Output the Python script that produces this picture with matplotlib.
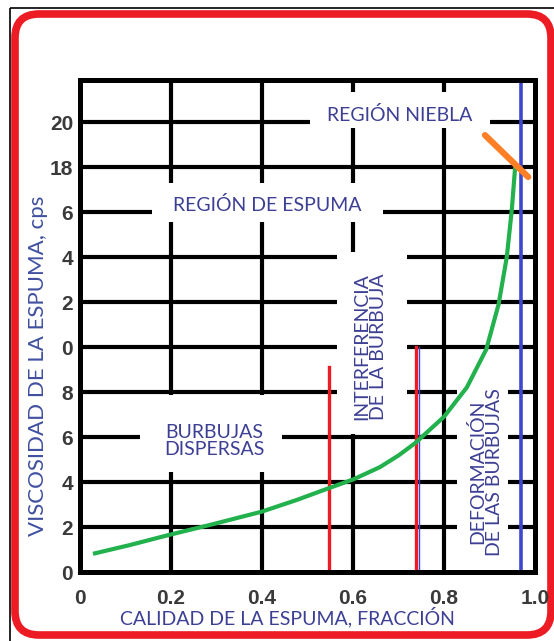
import matplotlib.pyplot as plt
from matplotlib.patches import FancyBboxPatch, Rectangle

# Data
x_ticks = [0, 0.2, 0.4, 0.6, 0.8, 1.0]
x_tick_labels = ['0', '0.2', '0.4', '0.6', '0.8', '1.0']
y_ticks = [0, 2, 4, 6, 8, 10, 12, 14, 16, 18, 20]
y_tick_labels = ['0', '2', '4', '6', '8', '0', '2', '4', '6', '18', '20']

# green curve: foam viscosity vs foam quality
quality = [0.033, 0.110, 0.194, 0.293, 0.399, 0.476, 0.546, 0.601, 0.659,
           0.700, 0.736, 0.800, 0.850, 0.893, 0.920, 0.938, 0.949, 0.956]
viscosity = [0.83, 1.20, 1.64, 2.13, 2.68, 3.20, 3.72, 4.12, 4.66,
             5.18, 5.72, 6.90, 8.2, 9.9, 11.9, 14.0, 16.1, 17.9]

# region boundaries
red_x = [0.547, 0.738]
red_top = [9.1, 10.0]
blue_x = [0.744, 0.9685]
blue_top = [10.0, 21.9]
blue_width = [1.0, 2.6]
orange_x = [0.89, 0.985]
orange_y = [19.42, 17.56]

# region labels: text, x, y, rotation, white box (x0, x1, y0, y1)
labels = [
    ('REGIÓN NIEBLA', 0.703, 20.3, 0, (0.505, 0.90, 19.75, 21.33)),
    ('REGIÓN DE ESPUMA', 0.411, 16.3, 0, (0.158, 0.666, 15.56, 17.29)),
    ('BURBUJAS\nDISPERSAS', 0.295, 5.82, 0, (0.132, 0.444, 4.44, 7.85)),
    ('INTERFERENCIA\nDE LA BURBUJA', 0.637, 10.0, 90, (0.565, 0.719, 6.12, 14.22)),
    ('DEFORMACIÓN\nDE LAS BURBUJAS', 0.892, 4.44, 90, (0.829, 0.94, 0.0, 9.0)),
]

W, H = 554, 641
fig = plt.figure(figsize=(W / 100, H / 100), dpi=100)

# background frame (pixel coordinates)
bg = fig.add_axes([0, 0, 1, 1])
bg.set_xlim(0, W)
bg.set_ylim(H, 0)
bg.axis('off')
bg.add_patch(Rectangle((10, 8), W, H, fill=False, edgecolor='black', linewidth=1.2))
bg.add_patch(FancyBboxPatch((15, 14), 536, 621, boxstyle='round,pad=0,rounding_size=24',
                            fill=False, edgecolor='#ed1c24', linewidth=5.5))

# main axes
ax = fig.add_axes([80 / W, 1 - 572 / H, 455 / W, 492 / H])
ax.set_xlim(0, 1)
ax.set_ylim(0, 21.87)

# black grid
ax.hlines(y_ticks[1:], 0, 1, color='black', linewidth=3, zorder=1)
ax.vlines(x_ticks[1:-1], 0, 21.87, color='black', linewidth=3, zorder=1)

# white boxes behind labels + labels
for text, tx, ty, rot, (x0, x1, y0, y1) in labels:
    ax.add_patch(Rectangle((x0, y0), x1 - x0, y1 - y0, facecolor='white',
                           edgecolor='none', zorder=2))
    ax.text(tx, ty, text, rotation=rot, ha='center', va='center', color='#3d3f94',
            fontsize=14, family='Lato', linespacing=1.0, zorder=6)

# curves
ax.plot(quality, viscosity, color='#22b14c', linewidth=3, zorder=4)
for x, top in zip(red_x, red_top):
    ax.plot([x, x], [0, top], color='#ed1c24', linewidth=2.4, zorder=3)
for x, top, lw in zip(blue_x, blue_top, blue_width):
    ax.plot([x, x], [0, top], color='#3f48cc', linewidth=lw, zorder=3)
ax.plot(orange_x, orange_y, color='#ff7f27', linewidth=4.5, solid_capstyle='round', zorder=5)

# axes styling
for s in ax.spines.values():
    s.set_linewidth(3.6)
    s.set_zorder(7)
ax.set_xticks(x_ticks)
ax.set_xticklabels(x_tick_labels)
ax.set_yticks(y_ticks)
ax.set_yticklabels(y_tick_labels)
ax.tick_params(length=0, labelsize=15, labelcolor='#3a3a3a')
ax.tick_params(axis='x', pad=12)
ax.tick_params(axis='y', pad=5)
for lab in ax.get_xticklabels() + ax.get_yticklabels():
    lab.set_family('Liberation Sans')
    lab.set_weight('bold')

ax.set_xlabel('CALIDAD DE LA ESPUMA, FRACCIÓN', color='#3d3f94', fontsize=14,
              family='Lato', va='center')
ax.xaxis.set_label_coords(0.455, -0.0915)
ax.set_ylabel('VISCOSIDAD DE LA ESPUMA, cps', color='#4050a0', fontsize=16,
              family='Lato', va='center')
ax.yaxis.set_label_coords(-0.0923, 0.419)

plt.savefig('out.png', dpi=100)
